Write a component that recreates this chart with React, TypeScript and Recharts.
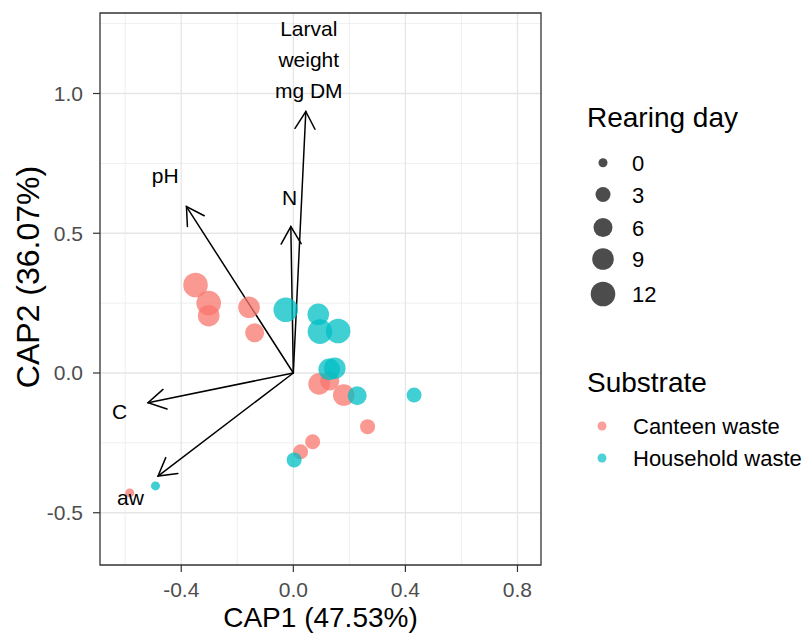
import { ScatterChart, Scatter, XAxis, YAxis, CartesianGrid, ReferenceLine, ReferenceArea } from 'recharts';

// CAP site scores, one array per substrate
const canteenCAP1 = [-0.349, -0.302, -0.302, -0.158, -0.138, 0.092, 0.13, 0.18, 0.265, 0.069, 0.026, -0.584];
const canteenCAP2 = [0.315, 0.25, 0.205, 0.235, 0.144, -0.039, -0.029, -0.079, -0.192, -0.246, -0.282, -0.429];
const canteenDay = [12, 12, 9, 9, 6, 9, 6, 9, 3, 3, 3, 0];

const householdCAP1 = [-0.027, 0.089, 0.095, 0.16, 0.128, 0.148, 0.228, 0.431, 0.003, -0.492];
const householdCAP2 = [0.226, 0.21, 0.148, 0.15, 0.013, 0.017, -0.081, -0.079, -0.311, -0.404];
const householdDay = [12, 9, 12, 12, 9, 9, 6, 3, 3, 0];

// environmental vectors (arrow tips) and where their names sit
const vectorNames = [['Larval', 'weight', 'mg DM'], ['N'], ['pH'], ['C'], ['aw']];
const vectorCAP1 = [0.0446, -0.0089, -0.3814, -0.5186, -0.4829];
const vectorCAP2 = [0.9356, 0.5238, 0.5954, -0.1063, -0.3688];
const vectorLabelCAP1 = [0.055, -0.0136, -0.457, -0.62, -0.581];
const vectorLabelCAP2 = [1.121, 0.628, 0.708, -0.139, -0.446];

const rearingDays = [0, 3, 6, 9, 12];
const substrates = ['Canteen waste', 'Household waste'];

const xTicks = [-0.4, 0, 0.4, 0.8];
const yTicks = [-0.5, 0, 0.5, 1];
const xMinor = [-0.6, -0.2, 0.2, 0.6];
const yMinor = [-0.25, 0.25, 0.75, 1.25];

const X_DOMAIN: [number, number] = [-0.69, 0.884];
const Y_DOMAIN: [number, number] = [-0.687, 1.288];

const RED = '#F8766D';
const CYAN = '#00BFC4';
const FONT = '"Liberation Sans", Arial, sans-serif';

const radiusByDay: Record<number, number> = { 0: 4.5, 3: 7.5, 6: 9.5, 9: 10.8, 12: 12.3 };

const canteen = canteenCAP1.map((x, i) => ({ x, y: canteenCAP2[i], day: canteenDay[i] }));
const household = householdCAP1.map((x, i) => ({ x, y: householdCAP2[i], day: householdDay[i] }));
const vectorLabels = vectorNames.map((lines, i) => ({ x: vectorLabelCAP1[i], y: vectorLabelCAP2[i], lines }));

const dot = (color: string) => (props: any) => (
    <circle cx={props.cx} cy={props.cy} r={radiusByDay[props.payload.day]} fill={color} fillOpacity={0.75} />
);

// open arrow head, like grid::arrow()
const Arrow = (props: any) => {
    const { x1, y1, x2, y2 } = props;
    const ang = Math.atan2(y2 - y1, x2 - x1);
    const len = 20;
    const spread = Math.PI / 6;
    const ax = x2 - len * Math.cos(ang - spread);
    const ay = y2 - len * Math.sin(ang - spread);
    const bx = x2 - len * Math.cos(ang + spread);
    const by = y2 - len * Math.sin(ang + spread);
    return (
        <g stroke="#000" strokeWidth={1.5} fill="none" strokeLinecap="round">
            <line x1={x1} y1={y1} x2={x2} y2={y2} />
            <polyline points={`${ax},${ay} ${x2},${y2} ${bx},${by}`} />
        </g>
    );
};

const VectorLabel = (props: any) => {
    const { cx, cy, payload } = props;
    const n = payload.lines.length;
    return (
        <text textAnchor="middle" fontSize={21} fill="#000" fontFamily={FONT}>
            {payload.lines.map((l: string, i: number) => (
                <tspan key={i} x={cx} y={cy + (i - (n - 1) / 2) * 31 + 7.5}>{l}</tspan>
            ))}
        </text>
    );
};

const sizeKeyY = [162.7, 194.5, 227.5, 259, 294];

function Legends() {
    return (
        <svg width={809} height={637} style={{ position: 'absolute', left: 0, top: 0, pointerEvents: 'none' }}
            fontFamily={FONT}>
            <text x={587} y={127} fontSize={28} fill="#000">Rearing day</text>
            {rearingDays.map((d, i) => (
                <g key={d}>
                    <circle cx={603} cy={sizeKeyY[i]} r={radiusByDay[d]} fill="#000" fillOpacity={0.7} />
                    <text x={632} y={sizeKeyY[i] + 8} fontSize={22} fill="#000">{d}</text>
                </g>
            ))}
            <text x={587} y={392} fontSize={28} fill="#000">Substrate</text>
            {substrates.map((s, i) => (
                <g key={s}>
                    <circle cx={602} cy={426 + i * 32} r={4.5} fill={i === 0 ? RED : CYAN} fillOpacity={0.7} />
                    <text x={633} y={426 + i * 32 + 8} fontSize={22} fill="#000">{s}</text>
                </g>
            ))}
        </svg>
    );
}

export default function App() {
    return (
        <div style={{ position: 'absolute', left: 0, top: 0, width: 809, height: 637, background: '#fff' }}>
            <ScatterChart width={809} height={637} margin={{ top: 13, right: 268, bottom: 0, left: 0 }}
                style={{ fontFamily: FONT }}>
                <CartesianGrid stroke="#EBEBEB" strokeWidth={0.8} horizontalValues={yMinor} verticalValues={xMinor} />
                <CartesianGrid stroke="#E6E6E6" strokeWidth={1.3} horizontalValues={yTicks} verticalValues={xTicks} />
                <XAxis type="number" dataKey="x" domain={X_DOMAIN} ticks={xTicks} allowDataOverflow
                    tickFormatter={(v: number) => v.toFixed(1)} height={72} tickSize={7} tickMargin={10}
                    axisLine={false} tickLine={{ stroke: '#333', strokeWidth: 1.2 }}
                    tick={{ fill: '#4D4D4D', fontSize: 21 }}
                    label={{ value: 'CAP1 (47.53%)', position: 'insideBottom', offset: 10, fill: '#000', fontSize: 28 }} />
                <YAxis type="number" dataKey="y" domain={Y_DOMAIN} ticks={yTicks} allowDataOverflow
                    tickFormatter={(v: number) => v.toFixed(1)} width={100} tickSize={7} tickMargin={10}
                    axisLine={false} tickLine={{ stroke: '#333', strokeWidth: 1.2 }}
                    tick={{ fill: '#4D4D4D', fontSize: 21 }}
                    label={() => (
                        <text x={39} y={277} fontSize={32} fill="#000"
                            textAnchor="middle" transform="rotate(-90, 39, 277)">
                            CAP2 (36.07%)
                        </text>
                    )} />
                <Scatter data={canteen} shape={dot(RED)} isAnimationActive={false} />
                <Scatter data={household} shape={dot(CYAN)} isAnimationActive={false} />
                {vectorCAP1.map((vx, i) => (
                    <ReferenceLine key={i} segment={[{ x: 0, y: 0 }, { x: vx, y: vectorCAP2[i] }]}
                        shape={Arrow} ifOverflow="visible" />
                ))}
                <Scatter data={vectorLabels} shape={VectorLabel} isAnimationActive={false} />
                <ReferenceArea x1={X_DOMAIN[0]} x2={X_DOMAIN[1]} y1={Y_DOMAIN[0]} y2={Y_DOMAIN[1]}
                    fill="none" stroke="#333" strokeWidth={1.3} ifOverflow="visible" />
            </ScatterChart>
            <Legends />
        </div>
    );
}
